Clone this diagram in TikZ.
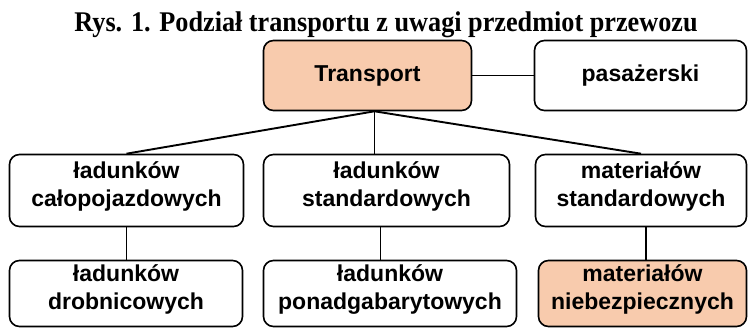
\documentclass[tikz,border=0pt]{standalone}
\usepackage{fontspec}
\setmainfont{Liberation Serif}
\setsansfont{Liberation Sans}
\newfontfamily\titlefont[FakeStretch=0.92]{Liberation Serif}
\definecolor{peach}{HTML}{F8CBAD}
\begin{document}
\begin{tikzpicture}[x=1pt,y=-1pt,
  box/.style={draw,line width=1.6pt,rounded corners=10pt,align=center,inner sep=0pt,
    font=\sffamily\bfseries\fontsize{23}{28}\selectfont},
  twoline/.style={box,text depth=13pt},
  hot/.style={fill=peach},
  link/.style={line width=1.9pt}]
\useasboundingbox (0,0) rectangle (748,328);
\node[anchor=base,font=\titlefont\bfseries\fontsize{28.5}{30}\selectfont] (title) at (386,32) {Rys. 1. Podział transportu z uwagi przedmiot przewozu};
% first row
\node[box,hot,minimum width=208,minimum height=70] (trans) at (367.5,75.5) {Transport};
\node[box,minimum width=212,minimum height=70] (pas) at (640.5,75.5) {pasażerski};
% second row
\node[twoline,minimum width=234,minimum height=72] (calo) at (126.5,190.5) {ładunków\\całopojazdowych};
\node[twoline,minimum width=246,minimum height=72] (stand) at (386.5,190.5) {ładunków\\standardowych};
\node[twoline,minimum width=211,minimum height=72] (mstand) at (641,190.5) {materiałów\\standardowych};
% third row
\node[twoline,minimum width=233,minimum height=66] (drob) at (126,293.5) {ładunków\\drobnicowych};
\node[twoline,minimum width=253,minimum height=66] (ponad) at (390,293.5) {ładunków\\ponadgabarytowych};
\node[twoline,hot,minimum width=208,minimum height=66] (niebez) at (642.5,293.5) {materiałów\\niebezpiecznych};
\coordinate (fork) at ([xshift=7pt]trans.south);
\draw[link] (trans) -- (pas);
\draw[link] (fork) -- (calo.north);
\draw[link] (fork) -- (fork |- stand.north);
\draw[link] (fork) -- (mstand.north);
\foreach \a/\b/\s in {calo/drob/0,stand/ponad/-6,mstand/niebez/5}
  \draw[link] ([xshift=\s pt]\a.south) -- ([xshift=\s pt]\a.south |- \b.north);
\end{tikzpicture}
\end{document}
